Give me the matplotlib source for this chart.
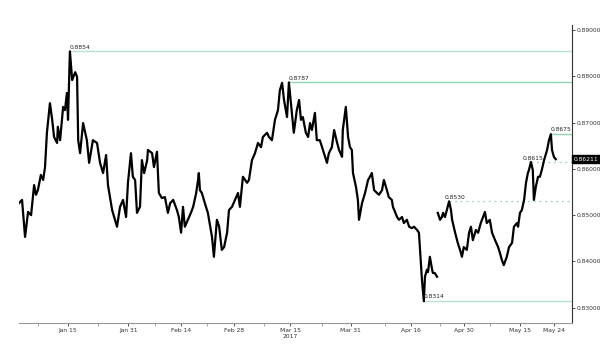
import matplotlib
matplotlib.use("Agg")
import matplotlib.pyplot as plt
from matplotlib.ticker import FixedLocator

# (days since 2017-01-01, EUR/GBP price)
series_a = [
    (1.0, 0.8526), (1.8, 0.8533), (2.6, 0.8453), (3.4, 0.8507), (4.2, 0.8500),
    (5.0, 0.8565), (5.5, 0.8544), (6.0, 0.8554), (6.8, 0.8587), (7.4, 0.8576),
    (7.9, 0.8604), (8.4, 0.8678), (9.2, 0.8742), (9.8, 0.8706), (10.3, 0.8669),
    (11.1, 0.8656), (11.3, 0.8691), (11.9, 0.8662), (12.7, 0.8734), (13.2, 0.8727),
    (13.7, 0.8764), (14.0, 0.8706), (14.5, 0.8854), (15.1, 0.8792), (15.9, 0.8809),
    (16.4, 0.8799), (16.7, 0.8662), (17.2, 0.8634), (18.0, 0.8699), (19.0, 0.8662),
    (19.6, 0.8613), (20.6, 0.8662), (21.7, 0.8656), (22.5, 0.8613), (23.3, 0.8591),
    (24.1, 0.8630), (24.6, 0.8565), (25.7, 0.8511), (27.0, 0.8475), (27.8, 0.8518),
    (28.6, 0.8533), (29.4, 0.8496), (29.9, 0.8570), (30.7, 0.8634), (31.2, 0.8583),
    (31.8, 0.8576), (32.3, 0.8505), (33.1, 0.8518), (33.6, 0.8619), (34.2, 0.8591),
    (35.0, 0.8619), (35.2, 0.8641), (36.3, 0.8634), (36.8, 0.8604), (37.6, 0.8637),
    (38.1, 0.8548), (38.9, 0.8537), (39.7, 0.8539), (40.5, 0.8505), (41.1, 0.8526),
    (41.9, 0.8533), (42.9, 0.8511), (43.4, 0.8496), (44.0, 0.8462), (44.5, 0.8518),
    (45.0, 0.8475), (45.8, 0.8490), (46.6, 0.8505), (47.2, 0.8518), (48.0, 0.8548),
    (48.5, 0.8576), (48.7, 0.8591), (49.0, 0.8554), (49.5, 0.8548), (50.3, 0.8526),
    (51.1, 0.8505), (52.2, 0.8453), (52.7, 0.8410), (53.5, 0.8490), (54.1, 0.8475),
    (54.8, 0.8425), (55.4, 0.8431), (56.2, 0.8462), (56.7, 0.8511), (57.5, 0.8518),
    (58.3, 0.8533), (59.1, 0.8548), (59.6, 0.8518), (60.4, 0.8583), (61.5, 0.8570),
    (62.0, 0.8576), (62.8, 0.8619), (63.6, 0.8634), (64.4, 0.8656), (65.2, 0.8647),
    (65.7, 0.8669), (66.8, 0.8678), (67.3, 0.8669), (68.1, 0.8662), (68.9, 0.8706),
    (69.7, 0.8727), (70.2, 0.8770), (70.8, 0.8786), (71.3, 0.8749), (72.1, 0.8712),
    (72.6, 0.8787), (73.4, 0.8721), (73.9, 0.8678), (74.7, 0.8727), (75.3, 0.8749),
    (75.8, 0.8706), (76.3, 0.8712), (77.1, 0.8678), (77.7, 0.8669), (78.2, 0.8699),
    (78.7, 0.8684), (79.5, 0.8721), (80.0, 0.8662), (80.8, 0.8662), (81.4, 0.8647),
    (82.2, 0.8626), (82.7, 0.8613), (83.2, 0.8634), (84.0, 0.8647), (84.6, 0.8684),
    (85.4, 0.8656), (85.9, 0.8641), (86.7, 0.8626), (86.9, 0.8684), (87.7, 0.8734),
    (88.3, 0.8669), (88.8, 0.8647), (89.3, 0.8641), (89.6, 0.8591), (90.4, 0.8561),
    (90.9, 0.8533), (91.2, 0.8490), (92.0, 0.8526), (92.8, 0.8548), (93.6, 0.8576),
    (94.1, 0.8583), (94.6, 0.8591), (95.2, 0.8554), (96.0, 0.8548), (96.5, 0.8544),
    (97.3, 0.8554), (97.8, 0.8576), (98.6, 0.8554), (99.1, 0.8539), (99.9, 0.8533),
    (100.2, 0.8518), (101.3, 0.8496), (101.8, 0.8490), (102.6, 0.8496), (103.1, 0.8483),
    (103.9, 0.8490), (104.5, 0.8475), (105.2, 0.8472), (105.8, 0.8475), (106.6, 0.8468),
    (107.1, 0.8462), (107.6, 0.8397), (107.9, 0.8360), (108.4, 0.8314), (108.7, 0.8367),
    (109.2, 0.8382), (109.5, 0.8377), (110.0, 0.8410), (110.6, 0.8382), (110.8, 0.8375),
    (111.3, 0.8375), (111.9, 0.8367),
]
# after the weekend gap (French election)
series_b = [
    (112.1, 0.8505), (112.7, 0.8490), (113.2, 0.8496), (113.5, 0.8505), (114.0, 0.8496),
    (114.5, 0.8511), (115.1, 0.8530), (115.6, 0.8511), (115.9, 0.8490), (116.7, 0.8462),
    (117.4, 0.8440), (118.0, 0.8425), (118.5, 0.8410), (119.0, 0.8431), (119.8, 0.8425),
    (120.4, 0.8462), (120.9, 0.8475), (121.4, 0.8446), (122.2, 0.8468), (122.8, 0.8462),
    (123.5, 0.8483), (124.1, 0.8496), (124.6, 0.8507), (125.1, 0.8483), (125.9, 0.8490),
    (126.5, 0.8462), (127.3, 0.8446), (128.1, 0.8431), (128.6, 0.8418), (129.1, 0.8403),
    (129.6, 0.8392), (130.4, 0.8410), (131.0, 0.8431), (131.8, 0.8440), (132.3, 0.8475),
    (133.1, 0.8483), (133.4, 0.8475), (133.9, 0.8505), (134.4, 0.8511), (135.0, 0.8533),
    (135.5, 0.8570), (136.0, 0.8591), (136.3, 0.8598), (136.8, 0.8615), (137.3, 0.8598),
    (137.6, 0.8533), (138.1, 0.8561), (138.7, 0.8583), (139.2, 0.8583), (139.7, 0.8598),
    (140.3, 0.8619), (141.1, 0.8641), (141.6, 0.8662), (142.1, 0.8675), (142.4, 0.8641),
    (142.9, 0.8626), (143.4, 0.8621),
]
day_a = [d for d, _ in series_a]
price_a = [p for _, p in series_a]
day_b = [d for d, _ in series_b]
price_b = [p for _, p in series_b]

# key levels: (day where it starts, value)
level_day = [14.5, 72.6, 108.4, 142.1]
level_val = [0.8854, 0.8787, 0.8314, 0.8675]
dotted_day = [115.1, 136.8]
dotted_val = [0.8530, 0.8615]
dotted_label_day = [113.9, 134.6]
last_val = 0.86211

tick_days = [14, 30, 44, 58, 73, 89, 105, 119, 134, 143]
tick_labels = ["Jan 15", "Jan 31", "Feb 14", "Feb 28", "Mar 15\n2017", "Mar 31",
               "Apr 16", "Apr 30", "May 15", "May 24"]
minor_days = [6, 22, 37, 51, 66, 81.5, 98, 112.7, 126]
ytick_vals = [0.83, 0.84, 0.85, 0.86, 0.87, 0.88, 0.89]

XMAX = 147.7
fig = plt.figure(figsize=(6.0, 3.47), dpi=100)
ax = fig.add_axes([0.0317, 0.0692, 0.9216, 0.8588])
ax.set_xlim(day_a[0], XMAX)
ax.set_ylim(0.8267, 0.8911)

lvl_colors = ["#b5e3cf", "#8fd5b2", "#b5e3cf", "#8fd5b2"]
for d, v, c in zip(level_day, level_val, lvl_colors):
    ax.plot([d, XMAX], [v, v], color=c, lw=1.0, zorder=1)
    ax.text(d, v + 0.0004, f"{v:.4f}", fontsize=4.3, family="DejaVu Sans",
            ha="left", va="bottom", color="#222222", zorder=5)
for d, ld, v in zip(dotted_day, dotted_label_day, dotted_val):
    ax.plot([d, XMAX], [v, v], color="#9fd2bf", lw=0.9, ls=(0, (1.5, 3)), zorder=1)
    ax.text(ld, v + 0.0003, f"{v:.4f}", fontsize=4.3, family="DejaVu Sans",
            ha="left", va="bottom", color="#222222", zorder=5)

ax.plot(day_a, price_a, color="black", lw=1.6, zorder=3)
ax.plot(day_b, price_b, color="black", lw=1.6, zorder=3)

for s in ["top", "left"]:
    ax.spines[s].set_visible(False)
ax.spines["right"].set_color("#333333")
ax.spines["bottom"].set_color("#999999")
ax.spines["right"].set_linewidth(0.8)
ax.spines["bottom"].set_linewidth(0.8)

ax.yaxis.tick_right()
ax.set_yticks(ytick_vals)
ax.set_yticklabels([f"{v:.5f}" for v in ytick_vals])
ax.tick_params(axis="y", labelsize=4.3, length=2, width=0.6, pad=1, colors="#333333")
ax.set_xticks(tick_days)
ax.set_xticklabels(tick_labels)
ax.xaxis.set_minor_locator(FixedLocator(minor_days))
ax.tick_params(axis="x", which="major", labelsize=4.3, length=2, width=0.6, pad=1.5,
               colors="#333333")
ax.tick_params(axis="x", which="minor", length=2, width=0.6, colors="#999999")
for lab in ax.get_xticklabels() + ax.get_yticklabels():
    lab.set_family("DejaVu Sans")

ax.text(1.003, last_val, f"{last_val:.5f}", transform=ax.get_yaxis_transform(),
        fontsize=4.3, color="white", ha="left", va="center", zorder=5,
        bbox=dict(boxstyle="square,pad=0.25", fc="black", ec="black"))

fig.savefig("out.png", dpi=100, facecolor="white")
